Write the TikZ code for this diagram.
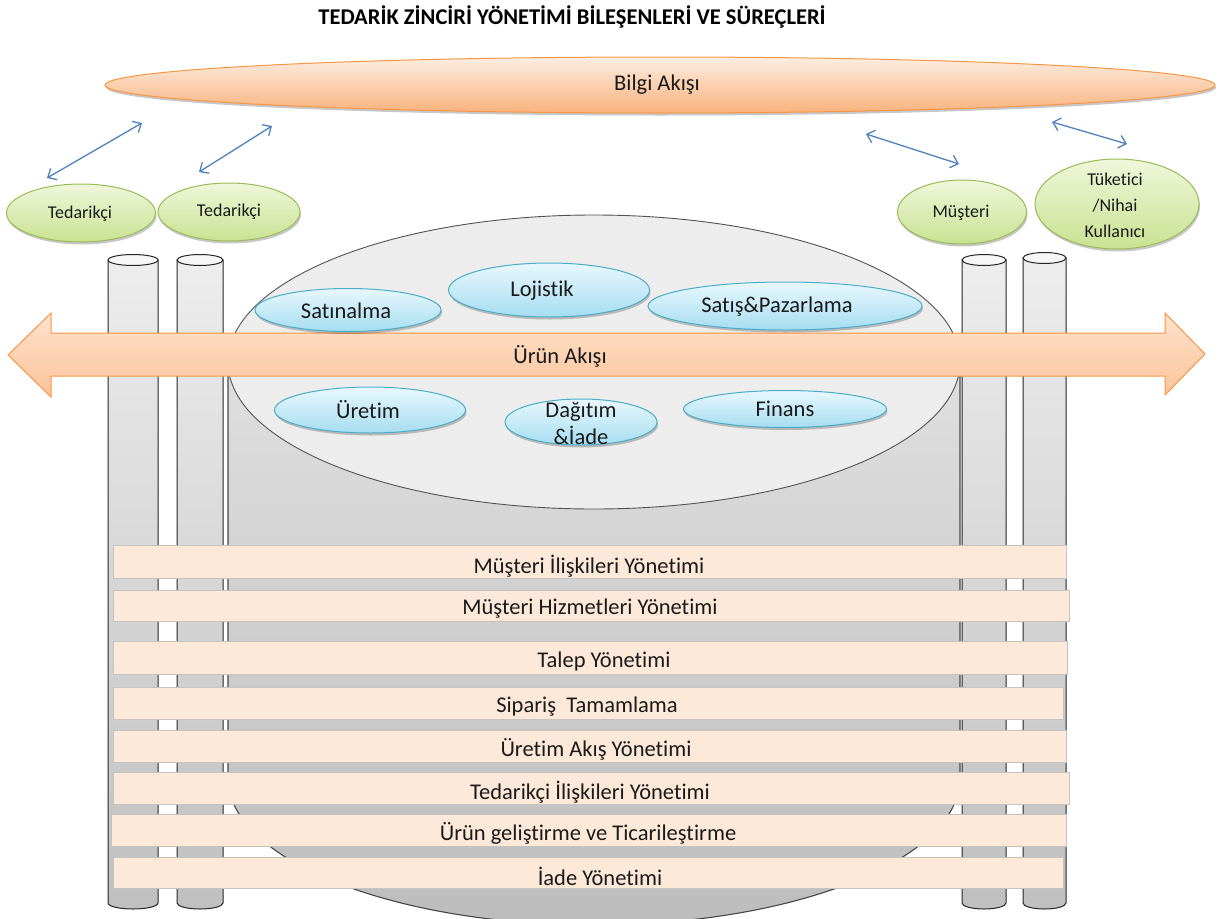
\documentclass[tikz,border=0pt]{standalone}
\usepackage{fontspec}
\setmainfont{Carlito}[Ligatures=NoCommon]
\usetikzlibrary{shapes.geometric,arrows.meta,shadows}

\definecolor{bandfill}{HTML}{FDE9D9}
\definecolor{bandline}{HTML}{C8C2BE}
\definecolor{orangeline}{HTML}{F79646}
\definecolor{orangetop}{HTML}{FDEEE2}
\definecolor{orangebot}{HTML}{F9B27C}
\definecolor{flowtop}{HTML}{FDE3CD}
\definecolor{flowbot}{HTML}{FBC399}
\definecolor{greenline}{HTML}{9BBB59}
\definecolor{greentop}{HTML}{EFF7DA}
\definecolor{greenbot}{HTML}{C9E292}
\definecolor{blueline}{HTML}{4BACC6}
\definecolor{bluetop}{HTML}{E8F8FD}
\definecolor{bluebot}{HTML}{A6DDF1}
\definecolor{linkblue}{HTML}{4F81BD}
\definecolor{inkdark}{HTML}{1A1A1A}
\definecolor{cylline}{HTML}{262626}

% a slim upright cylinder: centre x, half width, y of the top rim, y of the bottom rim
\newcommand{\smallcyl}[4]{%
  \path[pillar] (#1-#2,#3) -- (#1-#2,#4)
     arc[start angle=180,end angle=0,x radius=#2,y radius=6] -- (#1+#2,#3) -- cycle;
  \path[pillartop] (#1,#3) ellipse[x radius=#2,y radius=5.5];
}

\begin{document}
\begin{tikzpicture}[x=1pt,y=-1pt,
  pillar/.style={draw=cylline,line width=1pt,top color=gray!14,bottom color=gray!50},
  pillartop/.style={draw=cylline,line width=1pt,fill=gray!7},
  drumbody/.style={draw=black!72,line width=1.1pt,top color=gray!25,bottom color=gray!52},
  drumtop/.style={draw=black!68,line width=0.9pt,fill=gray!14},
  band/.style={rectangle,draw=bandline,line width=0.9pt,fill=bandfill,inner sep=0pt},
  bandtext/.style={font=\fontsize{22.5}{26}\selectfont,text=inkdark,inner sep=0pt},
  softshadow/.style={drop shadow={shadow xshift=1pt,shadow yshift=-2.5pt,opacity=0.22,fill=black}},
  info/.style={ellipse,draw=orangeline,line width=1pt,top color=orangetop,bottom color=orangebot,
    inner sep=0pt,softshadow},
  partner/.style={ellipse,draw=greenline,line width=1pt,top color=greentop,bottom color=greenbot,
    inner sep=0pt,softshadow},
  partnertext/.style={font=\fontsize{18}{26}\selectfont,text=inkdark,inner sep=0pt,align=center},
  func/.style={ellipse,draw=blueline,line width=1pt,top color=bluetop,bottom color=bluebot,
    inner sep=0pt,softshadow},
  functext/.style={font=\fontsize{22.5}{27}\selectfont,text=inkdark,inner sep=0pt,align=center},
  flow/.style={draw=orangeline,line width=1pt,top color=flowtop,bottom color=flowbot},
  link/.style={draw=linkblue,line width=1.3pt,
    {Straight Barb[length=7pt,width=13pt]}-{Straight Barb[length=7pt,width=13pt]}},
]
\useasboundingbox (0,0) rectangle (1222,918);
\clip (0,0) rectangle (1222,918);

% pillars on both sides
\smallcyl{133}{25}{260}{903}
\smallcyl{200}{23}{260}{903}
\smallcyl{984}{22}{260}{903}
\smallcyl{1044.5}{21.5}{258}{903}

% the large central drum
\path[drumbody] (228,362) -- (228,778)
   arc[start angle=180,end angle=0,x radius=366,y radius=147] -- (960,362) -- cycle;
\path[drumtop] (594,362) ellipse[x radius=366,y radius=147];

% process bands
\node[band,minimum width=953pt,minimum height=33pt] (b1) at (589.5,561.5) {};
\node[band,minimum width=956pt,minimum height=31pt] (b2) at (591,605.5) {};
\node[band,minimum width=954pt,minimum height=33pt] (b3) at (590,657.5) {};
\node[band,minimum width=950pt,minimum height=32pt] (b4) at (588,703) {};
\node[band,minimum width=953pt,minimum height=32pt] (b5) at (589.5,746) {};
\node[band,minimum width=956pt,minimum height=32pt] (b6) at (591,788) {};
\node[band,minimum width=955pt,minimum height=32pt] (b7) at (588.5,830) {};
\node[band,minimum width=950pt,minimum height=31pt] (b8) at (588,872.5) {};

\node[bandtext] (t1) at (589,566) {Müşteri İlişkileri Yönetimi};
\node[bandtext] (t2) at (590,609) {Müşteri Hizmetleri Yönetimi};
\node[bandtext] (t3) at (604,661) {Talep Yönetimi};
\node[bandtext] (t4) at (587,707) {Sipariş~ Tamamlama};
\node[bandtext] (t5) at (596,749) {Üretim Akış Yönetimi};
\node[bandtext] (t6) at (590,792) {Tedarikçi İlişkileri Yönetimi};
\node[bandtext] (t7) at (588,833) {Ürün geliştirme ve Ticarileştirme};
\node[bandtext] (t8) at (600,876) {İade Yönetimi};

% product flow arrow
\path[flow] (8,355) -- (51,313) -- (51,333) -- (1165,333) -- (1165,313) -- (1205,354)
   -- (1165,395) -- (1165,376) -- (51,376) -- (51,397) -- cycle;
\node[functext] (urun) at (560,356) {Ürün Akışı};

% functions inside the drum
\node[func,minimum width=186pt,minimum height=43pt] (satin) at (348,310) {};
\node[functext] at (346,311) {Satınalma};
\node[func,minimum width=201pt,minimum height=54pt] (loj) at (549,290) {};
\node[functext] at (542,291) {Lojistik};
\node[func,minimum width=274pt,minimum height=48pt] (satis) at (785,306) {};
\node[functext] at (777,307) {Satış\&Pazarlama};
\node[func,minimum width=191pt,minimum height=46pt] (uret) at (370,410) {};
\node[functext] at (368,410) {Üretim};
\node[func,minimum width=152pt,minimum height=46pt] (dagit) at (581,422) {};
\node[functext] at (581,423) {Dağıtım\\\&İade};
\node[func,minimum width=203pt,minimum height=37pt] (fin) at (785,409) {};
\node[functext] at (785,409) {Finans};

% information flow
\node[info,minimum width=1110pt,minimum height=56pt] (bilgi) at (660,85) {};
\node[functext] at (657,85) {Bilgi Akışı};

% partners
\node[partner,minimum width=149pt,minimum height=58pt] (ted1) at (81,213) {};
\node[partnertext] at (80,214) {Tedarikçi};
\node[partner,minimum width=142pt,minimum height=58pt] (ted2) at (229,212) {};
\node[partnertext] at (229,212) {Tedarikçi};
\node[partner,minimum width=129pt,minimum height=64pt] (must) at (962,212) {};
\node[partnertext] at (961,213) {Müşteri};
\node[partner,minimum width=164pt,minimum height=90pt] (tuk) at (1117,204) {};
\node[partnertext] at (1115,205) {Tüketici\\/Nihai\\Kullanıcı};

% exchanges between partners and the information flow
\coordinate (l1a) at (47,178);   \coordinate (l1b) at (142,123);
\coordinate (l2a) at (199,172);  \coordinate (l2b) at (272,126);
\coordinate (l3a) at (866,134);  \coordinate (l3b) at (959,164);
\coordinate (l4a) at (1052,122); \coordinate (l4b) at (1127,144);
\draw[link] (l1a) -- (l1b);
\draw[link] (l2a) -- (l2b);
\draw[link] (l3a) -- (l3b);
\draw[link] (l4a) -- (l4b);

% title
\node[font=\bfseries\fontsize{22.5}{26}\selectfont,text=black] (title) at (572,17)
  {TEDARİK ZİNCİRİ YÖNETİMİ BİLEŞENLERİ VE SÜREÇLERİ};
\end{tikzpicture}
\end{document}
